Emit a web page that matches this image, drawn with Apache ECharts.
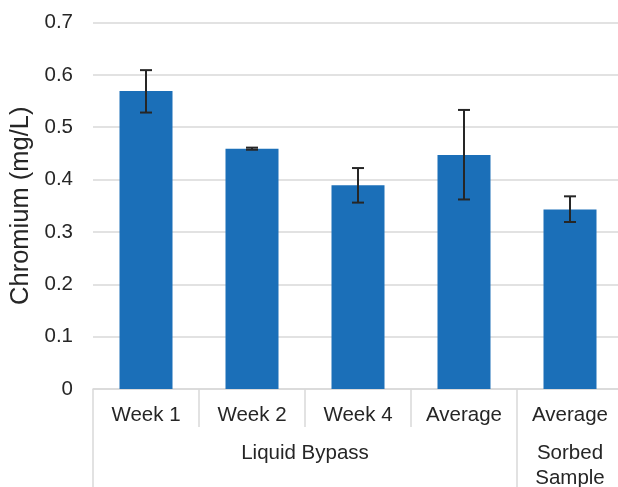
<!DOCTYPE html>
<html><head><meta charset="utf-8">
<script src="https://cdn.jsdelivr.net/npm/echarts@6/dist/echarts.min.js"></script>
<style>html,body{margin:0;padding:0;background:#fff;overflow:hidden}#c{width:630px;height:487px}</style>
</head><body><div id="c"></div>
<script>
const categories = ['Week 1', 'Week 2', 'Week 4', 'Average', 'Average'];
const groups = ['Liquid Bypass', 'Sorbed\nSample'];
const groupSpans = [4, 1];
const values = [0.569, 0.459, 0.389, 0.447, 0.343];
const errLow = [0.528, 0.457, 0.356, 0.362, 0.319];
const errHigh = [0.609, 0.461, 0.422, 0.533, 0.368];
const yTicks = [0, 0.1, 0.2, 0.3, 0.4, 0.5, 0.6, 0.7];

const bounds = [0];
const centers = [];
groupSpans.forEach(s => { const a = bounds[bounds.length - 1]; centers.push(a + s / 2); bounds.push(a + s); });

const font = 'Liberation Sans, Arial, sans-serif';
const gridColor = '#d9d9d9';
const textColor = '#262626';

const chart = echarts.init(document.getElementById('c'), null, {renderer: 'canvas'});
chart.setOption({
  animation: false,
  grid: {left: 93, width: 530, top: 22.5, bottom: 98, containLabel: false, outerBoundsMode: 'none'},
  xAxis: [{
    type: 'category',
    data: categories,
    boundaryGap: true,
    axisLine: {show: true, lineStyle: {color: gridColor, width: 1.5}},
    axisTick: {show: true, length: 38, alignWithLabel: false, lineStyle: {color: gridColor, width: 1.5}},
    axisLabel: {color: textColor, fontSize: 20.5, fontFamily: font, margin: 16, interval: 0}
  }, {
    type: 'value',
    position: 'bottom',
    min: 0,
    max: bounds[bounds.length - 1],
    axisLine: {show: false},
    splitLine: {show: false},
    axisTick: {show: true, length: 100, customValues: bounds, lineStyle: {color: gridColor, width: 1.5}},
    axisLabel: {
      show: true, customValues: centers, margin: 52, color: textColor, fontSize: 20.5, fontFamily: font, lineHeight: 25,
      formatter: v => { const i = centers.findIndex(c => Math.abs(c - v) < 1e-6); return i >= 0 ? groups[i] : ''; }
    }
  }],
  yAxis: {
    type: 'value',
    min: yTicks[0],
    max: yTicks[yTicks.length - 1],
    interval: 0.1,
    name: 'Chromium (mg/L)',
    nameLocation: 'middle',
    nameGap: 59,
    nameTextStyle: {color: textColor, fontSize: 25.5, fontFamily: font},
    axisLine: {show: false},
    axisTick: {show: false},
    splitLine: {lineStyle: {color: gridColor, width: 1.5}},
    axisLabel: {color: textColor, fontSize: 20.5, fontFamily: font, margin: 20, formatter: v => String(Math.round(v * 10) / 10)}
  },
  series: [{
    type: 'bar',
    data: values,
    barWidth: '50%',
    itemStyle: {color: '#1b6fb8'},
    xAxisIndex: 0
  }, {
    type: 'custom',
    xAxisIndex: 0,
    data: values.map((v, i) => [i, errLow[i], errHigh[i]]),
    renderItem: function (params, api) {
      const x = api.value(0);
      const lo = api.coord([x, api.value(1)]);
      const hi = api.coord([x, api.value(2)]);
      const w = 6;
      const style = {stroke: '#262626', lineWidth: 2, fill: null};
      return {type: 'group', children: [
        {type: 'line', shape: {x1: lo[0], y1: lo[1], x2: hi[0], y2: hi[1]}, style: style},
        {type: 'line', shape: {x1: lo[0] - w, y1: lo[1], x2: lo[0] + w, y2: lo[1]}, style: style},
        {type: 'line', shape: {x1: hi[0] - w, y1: hi[1], x2: hi[0] + w, y2: hi[1]}, style: style}
      ]};
    },
    z: 10
  }]
});
</script></body></html>
